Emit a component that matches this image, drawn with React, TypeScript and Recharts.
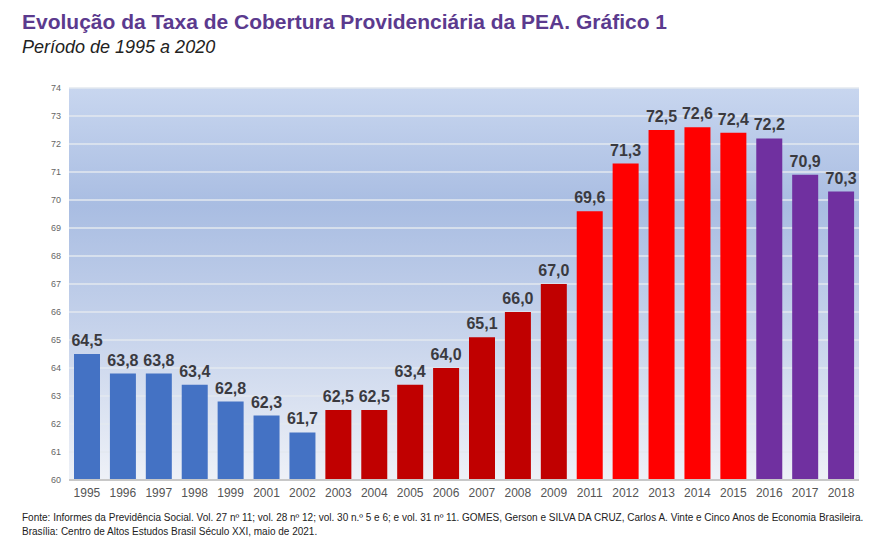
import { BarChart, Bar, XAxis, YAxis, CartesianGrid, LabelList, Cell } from "recharts";

const anos = [
  "1995", "1996", "1997", "1998", "1999", "2001", "2002", "2003", "2004", "2005", "2006", "2007",
  "2008", "2009", "2011", "2012", "2013", "2014", "2015", "2016", "2017", "2018",
];
const taxas = [
  64.5, 63.8, 63.8, 63.4, 62.8, 62.3, 61.7, 62.5, 62.5, 63.4, 64.0, 65.1,
  66.0, 67.0, 69.6, 71.3, 72.5, 72.6, 72.4, 72.2, 70.9, 70.3,
];
const cores = [
  "#4472c4", "#4472c4", "#4472c4", "#4472c4", "#4472c4", "#4472c4", "#4472c4",
  "#c00000", "#c00000", "#c00000", "#c00000", "#c00000", "#c00000", "#c00000",
  "#ff0000", "#ff0000", "#ff0000", "#ff0000", "#ff0000",
  "#7030a0", "#7030a0", "#7030a0",
];
const yTicks = [60, 61, 62, 63, 64, 65, 66, 67, 68, 69, 70, 71, 72, 73, 74];

const data = anos.map((ano, i) => ({ ano, taxa: taxas[i], cor: cores[i] }));

// vírgula decimal
const fmt = (v: any) => Number(v).toFixed(1).replace(".", ",");

export default function App() {
  return (
    <div
      style={{
        position: "absolute",
        left: 0,
        top: 0,
        width: 880,
        height: 543,
        background: "#fff",
        fontFamily: "'Liberation Sans', Arial, sans-serif",
      }}
    >
      <div style={{ position: "absolute", left: 22, top: 10, fontSize: 21, fontWeight: 700, color: "#5b3a8e" }}>
        Evolução da Taxa de Cobertura Providenciária da PEA. Gráfico 1
      </div>
      <div style={{ position: "absolute", left: 22, top: 37, fontSize: 18, fontStyle: "italic", color: "#222" }}>
        Período de 1995 a 2020
      </div>
      <div style={{ position: "absolute", left: 0, top: 0 }}>
        <BarChart
          width={880}
          height={510}
          data={data}
          margin={{ top: 88, right: 21, bottom: 0, left: 39 }}
          barSize={26}
        >
          <defs>
            <linearGradient id="fundo" x1="0" y1="0" x2="0" y2="1">
              <stop offset="0%" stopColor="#c8d6ef" />
              <stop offset="30%" stopColor="#a9bde2" />
              <stop offset="65%" stopColor="#c9d5ec" />
              <stop offset="100%" stopColor="#eef1f7" />
            </linearGradient>
          </defs>
          <CartesianGrid vertical={false} fill="url(#fundo)" stroke="#e3e8ef" strokeWidth={1.5} />
          <XAxis
            dataKey="ano"
            interval={0}
            tickLine={false}
            axisLine={{ stroke: "#c8c8c8", strokeWidth: 2 }}
            tick={{ fontSize: 12, fill: "#555" }}
            height={30}
          />
          <YAxis
            domain={[60, 74]}
            ticks={yTicks}
            interval={0}
            width={30}
            tickLine={false}
            axisLine={false}
            tick={{ fontSize: 9, fill: "#666" }}
          />
          <Bar dataKey="taxa" isAnimationActive={false}>
            {data.map((d) => (
              <Cell key={d.ano} fill={d.cor} />
            ))}
            <LabelList
              dataKey="taxa"
              position="top"
              offset={8}
              formatter={fmt}
              style={{ fontSize: 16, fontWeight: 700, fill: "#3a3a40" }}
            />
          </Bar>
        </BarChart>
      </div>
      <div style={{ position: "absolute", left: 22, top: 511, fontSize: 10, color: "#222", lineHeight: "14px" }}>
        Fonte: Informes da Previdência Social. Vol. 27 nº 11; vol. 28 nº 12; vol. 30 n.º 5 e 6; e vol. 31 nº 11. GOMES, Gerson e SILVA DA CRUZ, Carlos A. Vinte e Cinco Anos de Economia Brasileira.
        <br />
        Brasília: Centro de Altos Estudos Brasil Século XXI, maio de 2021.
      </div>
    </div>
  );
}
